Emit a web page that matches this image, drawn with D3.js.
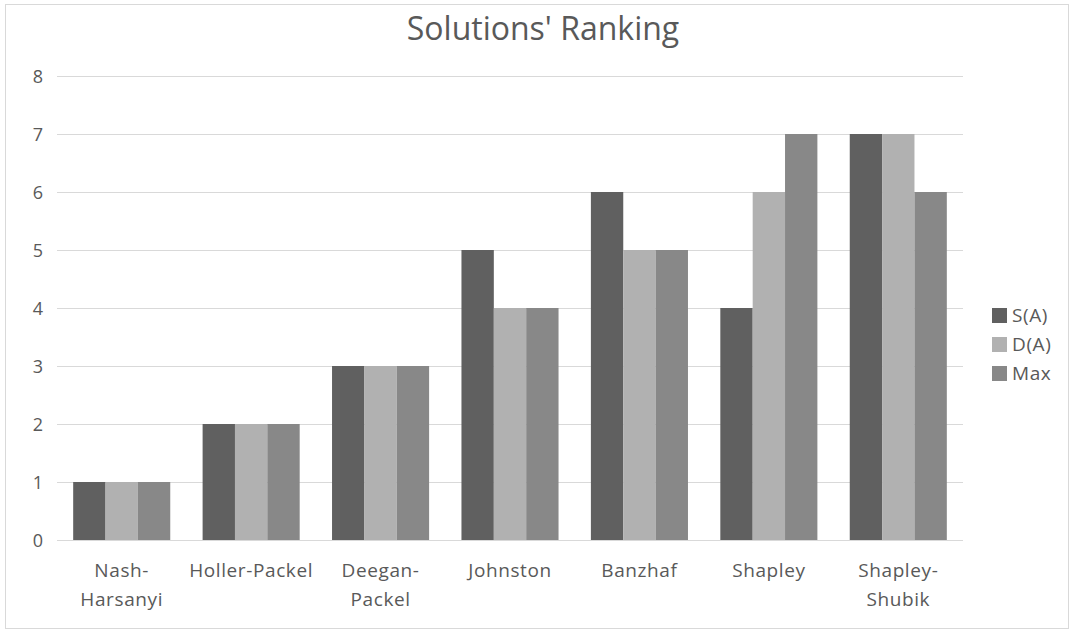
<!DOCTYPE html>
<html>
<head>
<meta charset="utf-8">
<script src="https://cdn.jsdelivr.net/npm/d3@7/dist/d3.min.js"></script>
<style>
  html, body { margin: 0; padding: 0; background: #fff; }
  svg { display: block; font-family: "Open Sans", "Noto Sans", sans-serif; }
</style>
</head>
<body>
<svg id="chart" width="1074" height="634"></svg>
<script>
// Ranking of each solution concept under three criteria
const categories = [["Nash-", "Harsanyi"], ["Holler-Packel"], ["Deegan-", "Packel"], ["Johnston"], ["Banzhaf"], ["Shapley"], ["Shapley-", "Shubik"]];
const seriesNames = ["S(A)", "D(A)", "Max"];
const sValues = [1, 2, 3, 5, 6, 4, 7];
const dValues = [1, 2, 3, 4, 5, 6, 7];
const maxValues = [1, 2, 3, 4, 5, 7, 6];
const yTicks = [0, 1, 2, 3, 4, 5, 6, 7, 8];
const colors = ["#606060", "#b1b1b1", "#888888"];

const seriesValues = [sValues, dValues, maxValues];
const keys = categories.map(c => c.join(""));

const svg = d3.select("#chart");
const textColor = "#595959";

// outer chart frame
svg.append("rect")
  .attr("x", 5.5).attr("y", 4.5)
  .attr("width", 1063).attr("height", 624)
  .attr("fill", "#fff").attr("stroke", "#d9d9d9").attr("stroke-width", 1);

const plot = { left: 57, right: 963, top: 76, bottom: 540 };

const x = d3.scaleBand().domain(keys).range([plot.left, plot.right]).paddingInner(0.25).paddingOuter(0.125);
const xs = d3.scaleBand().domain(seriesNames).range([0, x.bandwidth()]);
const y = d3.scaleLinear().domain([0, 8]).range([plot.bottom, plot.top]);

// title
svg.append("text")
  .attr("x", 543).attr("y", 40)
  .attr("text-anchor", "middle")
  .attr("fill", textColor)
  .style("font-size", "32px")
  .text("Solutions' Ranking");

// horizontal gridlines
svg.append("g")
  .selectAll("line")
  .data(yTicks)
  .join("line")
  .attr("x1", plot.left).attr("x2", plot.right)
  .attr("y1", d => Math.round(y(d)) + 0.5).attr("y2", d => Math.round(y(d)) + 0.5)
  .attr("stroke", "#d9d9d9").attr("stroke-width", 1);

// y axis labels
const yAxis = svg.append("g")
  .attr("transform", `translate(${plot.left - 14},0)`)
  .call(d3.axisLeft(y).tickValues(yTicks).tickSize(0).tickPadding(0));
yAxis.select(".domain").remove();
yAxis.selectAll("text")
  .attr("fill", textColor)
  .attr("dy", "0.36em")
  .style("font-size", "18px")
  .style("font-family", "\"Open Sans\", sans-serif");

// bars
const groups = svg.append("g")
  .selectAll("g")
  .data(keys)
  .join("g")
  .attr("transform", d => `translate(${x(d)},0)`);

groups.selectAll("rect")
  .data((k, i) => seriesNames.map((s, j) => ({ s, j, v: seriesValues[j][i] })))
  .join("rect")
  .attr("x", d => xs(d.s))
  .attr("width", xs.bandwidth())
  .attr("y", d => y(d.v))
  .attr("height", d => y(0) - y(d.v))
  .attr("fill", d => colors[d.j]);

// baseline
svg.append("line")
  .attr("x1", plot.left).attr("x2", plot.right)
  .attr("y1", plot.bottom + 0.5).attr("y2", plot.bottom + 0.5)
  .attr("stroke", "#d9d9d9");

// category labels (wrapped)
const xLabels = svg.append("g");
categories.forEach((lines, i) => {
  const cx = x(keys[i]) + x.bandwidth() / 2;
  const t = xLabels.append("text")
    .attr("x", cx)
    .attr("y", 577)
    .attr("text-anchor", "middle")
    .attr("fill", textColor)
    .style("font-size", "19px")
    .style("letter-spacing", "0.6px");
  lines.forEach((ln, li) => {
    t.append("tspan")
      .attr("x", cx)
      .attr("dy", li === 0 ? 0 : 29)
      .text(ln);
  });
});

// legend
const legend = svg.append("g").attr("transform", "translate(992,308)");
seriesNames.forEach((name, i) => {
  const g = legend.append("g").attr("transform", `translate(0,${i * 29})`);
  g.append("rect").attr("width", 15).attr("height", 15).attr("fill", colors[i]);
  g.append("text")
    .attr("x", 20).attr("y", 7.5).attr("dy", "0.36em")
    .attr("fill", textColor)
    .style("font-size", "19px")
    .style("letter-spacing", "0.6px")
    .text(name);
});
</script>
</body>
</html>
